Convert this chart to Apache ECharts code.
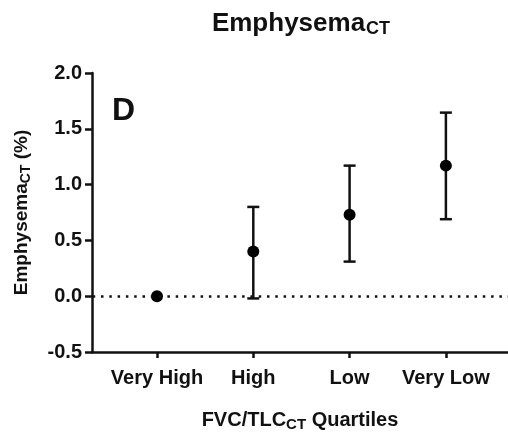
<!DOCTYPE html>
<html>
<head>
<meta charset="utf-8">
<script src="https://cdn.jsdelivr.net/npm/echarts@6/dist/echarts.min.js"></script>
<style>html,body{margin:0;padding:0;background:#fff}#c{width:508px;height:432px}</style>
</head>
<body>
<div id="c"></div>
<script>
var categories = ['Very High', 'High', 'Low', 'Very Low'];
var means = [0.0, 0.40, 0.73, 1.17];
var lowers = [null, -0.02, 0.31, 0.69];
var uppers = [null, 0.80, 1.17, 1.645];
var yTicks = [-0.5, 0.0, 0.5, 1.0, 1.5, 2.0];

var FONT = '"Liberation Sans", Arial, sans-serif';
var INK = '#111';

var pointData = means.map(function (m, i) { return [i, m]; });
var barData = [];
for (var i = 0; i < categories.length; i++) {
  if (lowers[i] !== null) barData.push([i, lowers[i], uppers[i]]);
}

var chart = echarts.init(document.getElementById('c'), null, {renderer: 'canvas'});
chart.setOption({
  animation: false,
  backgroundColor: '#fff',
  graphic: [{
    type: 'text',
    x: 301,
    y: 9,
    style: {
      text: '{a|Emphysema}{b|CT}',
      align: 'center',
      verticalAlign: 'top',
      rich: {
        a: {fontFamily: FONT, fontWeight: 'bold', fontSize: 26, fill: INK},
        b: {fontFamily: FONT, fontWeight: 'bold', fontSize: 18, fill: INK, padding: [11, 0, 0, 1]}
      }
    }
  }, {
    type: 'text',
    x: 112,
    y: 95,
    style: {text: 'D', font: 'bold 32px ' + FONT, fill: INK}
  }],
  grid: {left: 92, right: 0, top: 73, bottom: 80, containLabel: false, outerBoundsMode: 'none'},
  xAxis: {
    type: 'value',
    min: -0.675,
    max: 3.645,
    splitLine: {show: false},
    axisLine: {show: true, onZero: false, lineStyle: {color: INK, width: 2.5}},
    axisTick: {show: true, customValues: [0, 1, 2, 3], length: 6, lineStyle: {color: INK, width: 2.5}},
    axisLabel: {
      show: true,
      customValues: [0, 1, 2, 3],
      formatter: function (v) { return categories[Math.round(v)]; },
      fontFamily: FONT, fontWeight: 'bold', fontSize: 20, color: INK, margin: 16
    },
    name: '{a|FVC/TLC}{b|CT}{a| Quartiles}',
    nameLocation: 'middle',
    nameGap: 56,
    nameTextStyle: {
      rich: {
        a: {fontFamily: FONT, fontWeight: 'bold', fontSize: 20, color: INK},
        b: {fontFamily: FONT, fontWeight: 'bold', fontSize: 15, color: INK, padding: [9, 0, 0, 0]}
      }
    }
  },
  yAxis: {
    type: 'value',
    min: yTicks[0],
    max: yTicks[yTicks.length - 1],
    interval: 0.5,
    splitLine: {show: false},
    axisLine: {show: true, onZero: false, lineStyle: {color: INK, width: 2.5}},
    axisTick: {show: true, length: 7, lineStyle: {color: INK, width: 2.5}},
    axisLabel: {
      formatter: function (v) { return v.toFixed(1); },
      fontFamily: FONT, fontWeight: 'bold', fontSize: 20, color: INK, margin: 10
    },
    name: '{a|Emphysema}{b|CT}{a| (%)}',
    nameLocation: 'middle',
    nameGap: 59,
    nameTextStyle: {
      rich: {
        a: {fontFamily: FONT, fontWeight: 'bold', fontSize: 19, color: INK},
        b: {fontFamily: FONT, fontWeight: 'bold', fontSize: 14, color: INK, padding: [9, 0, 0, 0]}
      }
    }
  },
  series: [
    {
      type: 'custom',
      data: barData,
      z: 3,
      renderItem: function (params, api) {
        var x = api.value(0);
        var lo = api.coord([x, api.value(1)]);
        var hi = api.coord([x, api.value(2)]);
        var cw = 6;
        var st = {stroke: INK, lineWidth: 2.5, fill: null};
        return {
          type: 'group',
          children: [
            {type: 'line', shape: {x1: lo[0], y1: lo[1], x2: hi[0], y2: hi[1]}, style: st},
            {type: 'line', shape: {x1: lo[0] - cw, y1: lo[1], x2: lo[0] + cw, y2: lo[1]}, style: st},
            {type: 'line', shape: {x1: hi[0] - cw, y1: hi[1], x2: hi[0] + cw, y2: hi[1]}, style: st}
          ]
        };
      }
    },
    {
      type: 'scatter',
      data: pointData,
      symbol: 'circle',
      symbolSize: 12,
      z: 4,
      itemStyle: {color: '#000', opacity: 1},
      markLine: {
        silent: true,
        symbol: ['none', 'none'],
        label: {show: false},
        lineStyle: {color: INK, type: [2.5, 5.8], width: 2.5, dashOffset: -9},
        data: [{yAxis: 0}]
      }
    }
  ]
});
</script>
</body>
</html>
